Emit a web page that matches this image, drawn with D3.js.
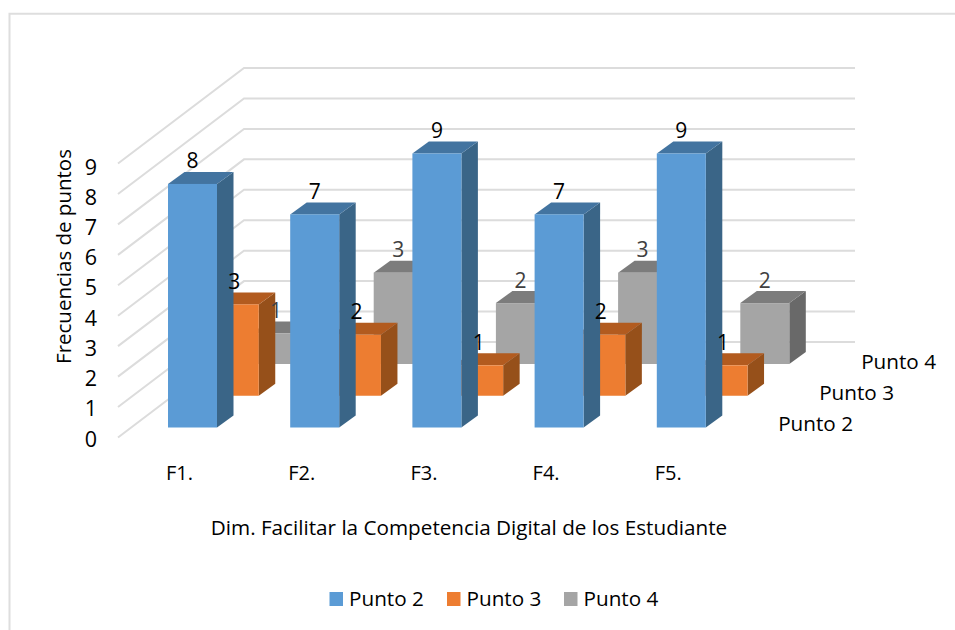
<!DOCTYPE html>
<html><head><meta charset="utf-8">
<script src="https://cdn.jsdelivr.net/npm/d3@7"></script>
<style>html,body{margin:0;padding:0;background:#fff}svg{display:block}text{font-family:"Open Sans",sans-serif;fill:#000}</style>
</head><body><svg id="c" width="955" height="630"></svg>
<script>
const categories = ["F1.","F2.","F3.","F4.","F5."];
const seriesNames = ["Punto 2","Punto 3","Punto 4"];
const punto2 = [8,7,9,7,9];
const punto3 = [3,2,1,2,1];
const punto4 = [1,3,2,3,2];
const valueTicks = [0,1,2,3,4,5,6,7,8,9];
const seriesValues = [punto2,punto3,punto4];
const palette = [
 {front:"#5B9BD5",top:"#4374A0",side:"#3A6587"},
 {front:"#ED7D31",top:"#B25B1F",side:"#96501A"},
 {front:"#A5A5A5",top:"#7C7C7C",side:"#696969"}];
const labelColors = ["#000","#000","#404040"];

const svg = d3.select("#c");
const W=49, DX=16.5, DY=12;
const x = d3.scalePoint(categories,[168,656.8]);
const h = d3.scaleLinear([0,9],[0,274]);
const depthX = d3.scalePoint(seriesNames,[0,83.5]);
const depthY = d3.scalePoint(seriesNames,[427.5,364]);

// chart border
svg.append("path").attr("d","M9.5,630V13.7H955").attr("fill","none").attr("stroke","#DEDEDE").attr("stroke-width",2);

// walls
const gl = svg.append("g").attr("fill","none").attr("stroke","#DCDCDC").attr("stroke-width",2);
valueTicks.forEach(t=>{
  const yf=437.5-h(t), yb=342-h(t);
  gl.append("path").attr("d",`M118,${yf}L244,${yb}H855`);
});

// bars back to front
[2,1,0].forEach(si=>{
  const name=seriesNames[si], c=palette[si], vals=seriesValues[si];
  const g=svg.append("g");
  categories.forEach((cat,i)=>{
    const x0=x(cat)+depthX(name), y0=depthY(name), y1=y0-h(vals[i]), x1=x0+W;
    g.append("polygon").attr("points",[[x1,y0],[x1+DX,y0-DY],[x1+DX,y1-DY],[x1,y1]].join(" ")).attr("fill",c.side);
    g.append("polygon").attr("points",[[x0,y1],[x0+DX,y1-DY],[x1+DX,y1-DY],[x1,y1]].join(" ")).attr("fill",c.top);
    g.append("rect").attr("x",x0).attr("y",y1).attr("width",W).attr("height",h(vals[i])).attr("fill",c.front);
  });
});
// data labels
[2,1,0].forEach(si=>{
  const name=seriesNames[si], vals=seriesValues[si];
  categories.forEach((cat,i)=>{
    svg.append("text").attr("x",x(cat)+depthX(name)+W/2).attr("y",depthY(name)-h(vals[i])-15.5)
      .attr("text-anchor","middle").attr("font-size",21).style("fill",labelColors[si]).text(vals[i]);
  });
});

// value axis
const yAxis=d3.axisLeft(d3.scaleLinear([0,9],[438.5,166.5])).tickValues(valueTicks).tickSize(0).tickPadding(0);
const ya=svg.append("g").attr("transform","translate(97,0)").call(yAxis);
ya.select(".domain").remove();
ya.selectAll("text").attr("font-size",21.5).attr("font-family",null).attr("dy","0.35em").style("fill","#000");
// category axis
const xAxis=d3.axisBottom(d3.scalePoint(categories,[179,667.8])).tickSize(0).tickPadding(0);
const xa=svg.append("g").attr("transform","translate(0,465.5)").call(xAxis);
xa.select(".domain").remove();
xa.selectAll("text").attr("font-size",20).attr("font-family",null).attr("dy","0.71em").style("fill","#000");

// depth labels
const depthLabelX=[853,894,936], depthLabelY=[424,393,362];
seriesNames.forEach((n,i)=>svg.append("text").attr("x",depthLabelX[i]).attr("y",depthLabelY[i]).attr("dy","0.35em").attr("text-anchor","end").attr("font-size",20.7).text(n));

// titles
svg.append("text").attr("transform","translate(64,256.5) rotate(-90)").attr("dy","0.35em").attr("text-anchor","middle").attr("font-size",20.5).text("Frecuencias de puntos");
svg.append("text").attr("x",469).attr("y",528).attr("dy","0.35em").attr("text-anchor","middle").attr("font-size",20.7).text("Dim. Facilitar la Competencia Digital de los Estudiante");

// legend
const legendX=[329.5,447,564];
seriesNames.forEach((n,i)=>{
  svg.append("rect").attr("x",legendX[i]).attr("y",592).attr("width",13.5).attr("height",14).attr("fill",palette[i].front);
  svg.append("text").attr("x",legendX[i]+19.5).attr("y",599).attr("dy","0.35em").attr("font-size",20.7).text(n);
});
</script></body></html>
